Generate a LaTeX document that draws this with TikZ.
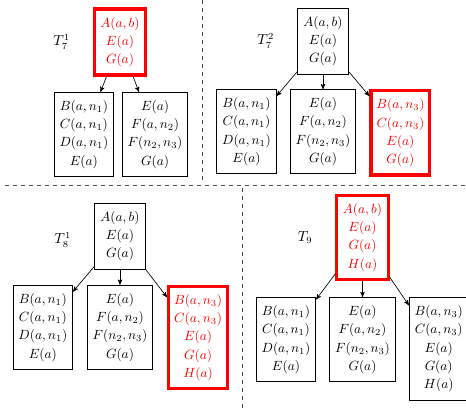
\documentclass[tikz,border=0pt]{standalone}
\usepackage{amsmath}
\usepackage{tikz}
\usetikzlibrary{arrows,positioning}

\begin{document}
\begin{tikzpicture}[-,>=stealth',x=0.75pt,y=-0.75pt,
		main node/.style={rectangle,draw,line width=0.6pt,align=center,inner xsep=4pt,inner ysep=6pt,font=\fontsize{10}{13.7}\selectfont},
		red node/.style={main node,draw=red,text=red,line width=2.4pt},
		root node/.style={minimum width=38.5pt},
		name node/.style={inner sep=0pt,font=\fontsize{10.5}{12}\selectfont},
		sep line/.style={dashed,line width=0.6pt,black!70}]
	\useasboundingbox (0,0) rectangle (466,408);

	% T_7^1
	\node[red node,root node] (1) at (120,42) {$A(a,b)$\\$E(a)$\\$G(a)$};
	\node[main node] (2) [below left=11.6pt and 4.5pt of 1.south, anchor=north east] {$B(a,n_1)$\\$C(a,n_1)$\\$D(a,n_1)$\\$E(a)$};
	\node[main node] (3) [right=6pt of 2.north east, anchor=north west] {$E(a)$\\$F(a,n_2)$\\$F(n_2,n_3)$\\$G(a)$};
	\node[name node] (4) [left=17pt of 1] {$T_7^1$};

	% T_7^2
	\node[main node,root node] (5) at (323,41) {$A(a,b)$\\$E(a)$\\$G(a)$};
	\node[main node] (7) [below=11.2pt of 5] {$E(a)$\\$F(a,n_2)$\\$F(n_2,n_3)$\\$G(a)$};
	\node[main node] (6) [left=10pt of 7.north west, anchor=north east] {$B(a,n_1)$\\$C(a,n_1)$\\$D(a,n_1)$\\$E(a)$};
	\node[red node] (8) [right=10pt of 7.north east, anchor=north west] {$B(a,n_3)$\\$C(a,n_3)$\\$E(a)$\\$G(a)$};
	\node[name node] (9) [left=17pt of 5] {$T_7^2$};

	% T_8^1
	\node[main node,root node] (10) at (120,236) {$A(a,b)$\\$E(a)$\\$G(a)$};
	\node[main node] (12) [below=11.6pt of 10] {$E(a)$\\$F(a,n_2)$\\$F(n_2,n_3)$\\$G(a)$};
	\node[main node] (11) [left=10.5pt of 12.north west, anchor=north east] {$B(a,n_1)$\\$C(a,n_1)$\\$D(a,n_1)$\\$E(a)$};
	\node[red node] (13) [right=10.5pt of 12.north east, anchor=north west] {$B(a,n_3)$\\$C(a,n_3)$\\$E(a)$\\$G(a)$\\$H(a)$};
	\node[name node] (14) [left=17pt of 10, yshift=-3pt] {$T_8^1$};

	% T_9
	\node[red node,root node] (15) at (362.5,237.5) {$A(a,b)$\\$E(a)$\\$G(a)$\\$H(a)$};
	\node[main node] (17) [below=12pt of 15] {$E(a)$\\$F(a,n_2)$\\$F(n_2,n_3)$\\$G(a)$};
	\node[main node] (16) [left=10pt of 17.north west, anchor=north east] {$B(a,n_1)$\\$C(a,n_1)$\\$D(a,n_1)$\\$E(a)$};
	\node[main node] (18) [right=10pt of 17.north east, anchor=north west] {$B(a,n_3)$\\$C(a,n_3)$\\$E(a)$\\$G(a)$\\$H(a)$};
	\node[name node] (19) [left=17pt of 15] {$T_9$};

	\path[->,line width=0.5pt]
		(1) edge (2)
		    edge (3)
		(5) edge (6)
		    edge (7)
		    edge (8)
		(10) edge (11)
		     edge (12)
		     edge (13)
		(15) edge (16)
		     edge (17)
		     edge (18);

	\draw[sep line] (202,0) -- (202,180);
	\draw[sep line] (5,185.5) -- (466,185.5);
	\draw[sep line] (242,188) -- (242,408);
\end{tikzpicture}
\end{document}
